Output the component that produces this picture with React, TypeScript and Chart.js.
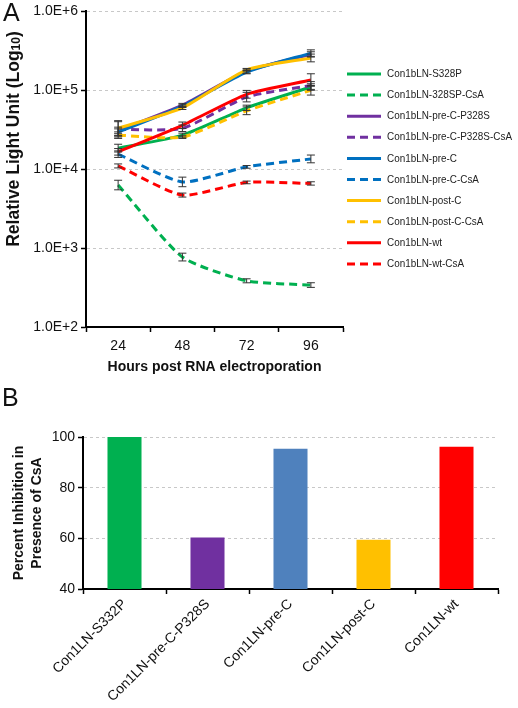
import React, { useEffect, useRef } from 'react';
import { Chart, registerables } from 'chart.js';
Chart.register(...registerables);

const FONT = "'Liberation Sans', Arial, Helvetica, sans-serif";

// ---- Panel A data ----
const hours = ['24', '48', '72', '96'];
const yTickValues = [100, 1000, 10000, 100000, 1000000];

const lineLabels = [
  'Con1bLN-S328P',
  'Con1bLN-328SP-CsA',
  'Con1bLN-pre-C-P328S',
  'Con1bLN-pre-C-P328S-CsA',
  'Con1bLN-pre-C',
  'Con1bLN-pre-C-CsA',
  'Con1bLN-post-C',
  'Con1bLN-post-C-CsA',
  'Con1bLN-wt',
  'Con1bLN-wt-CsA',
];

const s328P = [18500, 27000, 60000, 110000];
const s328PCsA = [6300, 770, 385, 340];
const preCP328S = [31000, 65000, 175000, 285000];
const preCP328SCsA = [32000, 33000, 82000, 115000];
const preC = [29500, 63000, 170000, 296000];
const preCCsA = [15500, 6900, 10700, 13500];
const postC = [33000, 60000, 182000, 257000];
const postCCsA = [27000, 25500, 55000, 100000];
const wt = [16600, 36000, 89000, 135000];
const wtCsA = [11000, 4700, 6800, 6600];

// relative error bar half-sizes
const errS328P = [0.12, 0.06, 0.08, 0.1];
const errS328PCsA = [0.15, 0.12, 0.06, 0.07];
const errPreCP328S = [0.1, 0.05, 0.06, 0.08];
const errPreCP328SCsA = [0.25, 0.1, 0.15, 0.12];
const errPreC = [0.1, 0.04, 0.05, 0.1];
const errPreCCsA = [0.1, 0.15, 0.04, 0.12];
const errPostC = [0.25, 0.05, 0.04, 0.12];
const errPostCCsA = [0.1, 0.04, 0.12, 0.15];
const errWt = [0.1, 0.1, 0.12, 0.2];
const errWtCsA = [0.06, 0.06, 0.04, 0.05];

const GREEN = '#00B050';
const PURPLE = '#7030A0';
const BLUE = '#0070C0';
const YELLOW = '#FFC000';
const RED = '#FF0000';
const DASH = [8, 5];

// ---- Panel B data ----
const barLabels = ['Con1LN-S332P', 'Con1LN-pre-C-P328S', 'Con1LN-pre-C', 'Con1LN-post-C', 'Con1LN-wt'];
const barValues = [100, 60.3, 95.4, 59.4, 96.2];
const barColors = ['#00B050', '#7030A0', '#4F81BD', '#FFC000', '#FF0000'];

const errorBarPlugin = {
  id: 'errorBars',
  afterDatasetsDraw(chart: any) {
    const ctx = chart.ctx;
    const yScale = chart.scales.y;
    ctx.save();
    ctx.strokeStyle = '#333';
    ctx.lineWidth = 1;
    chart.data.datasets.forEach((ds: any, di: number) => {
      const meta = chart.getDatasetMeta(di);
      meta.data.forEach((pt: any, i: number) => {
        const v = ds.data[i];
        const e = ds.errors[i];
        const yt = yScale.getPixelForValue(v * (1 + e));
        const yb = yScale.getPixelForValue(v / (1 + e));
        const x = pt.x;
        ctx.beginPath();
        ctx.moveTo(x, yt); ctx.lineTo(x, yb);
        ctx.moveTo(x - 4, yt); ctx.lineTo(x + 4, yt);
        ctx.moveTo(x - 4, yb); ctx.lineTo(x + 4, yb);
        ctx.stroke();
      });
    });
    ctx.restore();
  },
};

const legendPlugin = {
  id: 'sideLegend',
  afterDraw(chart: any) {
    const ctx = chart.ctx;
    ctx.save();
    ctx.font = `11.5px ${FONT}`;
    let maxW = 0;
    chart.data.datasets.forEach((ds: any) => { maxW = Math.max(maxW, ctx.measureText(ds.label).width); });
    const sx = Math.min(1, 125 / maxW);
    chart.data.datasets.forEach((ds: any, i: number) => {
      const y = 74 + i * 21.1;
      ctx.strokeStyle = ds.borderColor;
      ctx.lineWidth = 3;
      ctx.setLineDash(ds.borderDash || []);
      ctx.beginPath();
      ctx.moveTo(347, y);
      ctx.lineTo(381, y);
      ctx.stroke();
      ctx.setLineDash([]);
      ctx.fillStyle = '#222';
      ctx.textBaseline = 'middle';
      ctx.textAlign = 'left';
      ctx.save();
      ctx.translate(387, y);
      ctx.scale(sx, 1);
      ctx.fillText(ds.label, 0, 0);
      ctx.restore();
    });
    ctx.restore();
  },
};

const yTitlePlugin = {
  id: 'yTitleA',
  afterDraw(chart: any) {
    const ctx = chart.ctx;
    ctx.save();
    ctx.translate(14, 139);
    ctx.rotate(-Math.PI / 2);
    ctx.fillStyle = '#111';
    const main = 'Relative Light Unit (Log';
    const big = `bold 17.5px ${FONT}`;
    const small = `bold 12px ${FONT}`;
    ctx.font = big;
    const w1 = ctx.measureText(main).width;
    const w3 = ctx.measureText(')').width;
    ctx.font = small;
    const w2 = ctx.measureText('10').width;
    let x = -(w1 + w2 + w3) / 2;
    ctx.textBaseline = 'middle';
    ctx.textAlign = 'left';
    ctx.font = big;
    ctx.fillText(main, x, 0);
    x += w1;
    ctx.font = small;
    ctx.fillText('10', x, 3);
    x += w2;
    ctx.font = big;
    ctx.fillText(')', x, 0);
    ctx.restore();
  },
};

export default function App() {
  const topRef = useRef<HTMLCanvasElement>(null);
  const botRef = useRef<HTMLCanvasElement>(null);

  useEffect(() => {
    document.body.style.margin = '0';
    const mk = (label: string, data: number[], errors: number[], color: string, dashed: boolean, order: number) => ({
      label, data, errors, borderColor: color, backgroundColor: color,
      borderWidth: 3, borderDash: dashed ? DASH : [], pointRadius: 0, tension: 0.2, fill: false, order,
    });
    const c1 = new Chart(topRef.current!, {
      type: 'line',
      data: {
        labels: hours,
        datasets: [
          mk(lineLabels[0], s328P, errS328P, GREEN, false, 5),
          mk(lineLabels[1], s328PCsA, errS328PCsA, GREEN, true, 9),
          mk(lineLabels[2], preCP328S, errPreCP328S, PURPLE, false, 8),
          mk(lineLabels[3], preCP328SCsA, errPreCP328SCsA, PURPLE, true, 3),
          mk(lineLabels[4], preC, errPreC, BLUE, false, 2),
          mk(lineLabels[5], preCCsA, errPreCCsA, BLUE, true, 7),
          mk(lineLabels[6], postC, errPostC, YELLOW, false, 1),
          mk(lineLabels[7], postCCsA, errPostCCsA, YELLOW, true, 4),
          mk(lineLabels[8], wt, errWt, RED, false, 0),
          mk(lineLabels[9], wtCsA, errWtCsA, RED, true, 6),
        ] as any,
      },
      options: {
        animation: false,
        responsive: false,
        layout: { padding: { left: 0, right: 175, top: 8, bottom: 0 } },
        plugins: { legend: { display: false }, tooltip: { enabled: false } },
        scales: {
          x: {
            offset: true,
            grid: { offset: true, drawOnChartArea: false, drawTicks: true, tickLength: 5, tickColor: '#000', tickWidth: 1.5 },
            border: { color: '#000', width: 2 },
            ticks: { color: '#111', font: { family: FONT, size: 14 }, padding: 6 },
            title: {
              display: true, text: 'Hours post RNA electroporation', color: '#111',
              font: { family: FONT, size: 14, weight: 'bold' }, padding: { top: 0, bottom: 9 },
            },
            afterFit: (s: any) => { s.height = 58; },
          },
          y: {
            type: 'logarithmic',
            min: 100,
            max: 1000000,
            afterBuildTicks: (s: any) => { s.ticks = yTickValues.map((v) => ({ value: v })); },
            grid: { color: '#c8c8c8', lineWidth: 1, drawTicks: true, tickLength: 5, tickColor: '#000', tickWidth: 1.5 },
            border: { color: '#000', width: 2, dash: [3, 3] },
            ticks: {
              color: '#111', font: { family: FONT, size: 14 }, padding: 3,
              callback: (v: any) => '1.0E+' + Math.round(Math.log10(Number(v))),
            },
            afterFit: (s: any) => { s.width = 86; },
          },
        },
      } as any,
      plugins: [errorBarPlugin, legendPlugin, yTitlePlugin],
    });

    const c2 = new Chart(botRef.current!, {
      type: 'bar',
      data: {
        labels: barLabels,
        datasets: [{ data: barValues, backgroundColor: barColors, barPercentage: 0.41, categoryPercentage: 1 }],
      },
      options: {
        animation: false,
        responsive: false,
        layout: { padding: { left: 0, right: 20, top: 42, bottom: 0 } },
        plugins: { legend: { display: false }, tooltip: { enabled: false } },
        scales: {
          x: {
            grid: { offset: true, drawOnChartArea: false, drawTicks: true, tickLength: 5, tickColor: '#000', tickWidth: 1.5 },
            border: { color: '#000', width: 2 },
            ticks: { color: '#111', font: { family: FONT, size: 14 }, minRotation: 45, maxRotation: 45, autoSkip: false, padding: 2 },
            afterFit: (s: any) => { s.height = 119; },
          },
          y: {
            min: 40,
            max: 100,
            ticks: { stepSize: 20, color: '#111', font: { family: FONT, size: 14 }, padding: 3 },
            grid: { color: '#c8c8c8', lineWidth: 1, drawTicks: true, tickLength: 5, tickColor: '#000', tickWidth: 1.5 },
            border: { color: '#000', width: 2, dash: [3, 3] },
            title: {
              display: true, text: ['Percent Inhibition in', 'Presence of CsA'], color: '#111',
              font: { family: FONT, size: 14, weight: 'bold', lineHeight: 1.3 }, padding: { top: 10, bottom: 0 },
            },
            afterFit: (s: any) => { s.width = 83; },
          },
        },
      } as any,
    });

    return () => { c1.destroy(); c2.destroy(); };
  }, []);

  return (
    <div style={{ position: 'relative', width: 518, height: 708, fontFamily: FONT, color: '#111' }}>
      <canvas ref={topRef} width={518} height={385} style={{ position: 'absolute', left: 0, top: 0, display: 'block' }} />
      <canvas ref={botRef} width={518} height={313} style={{ position: 'absolute', left: 0, top: 395, display: 'block' }} />
      <div style={{ position: 'absolute', left: 3, top: 0, fontSize: 25, lineHeight: 1 }}>A</div>
      <div style={{ position: 'absolute', left: 2, top: 385, fontSize: 25, lineHeight: 1 }}>B</div>
    </div>
  );
}
